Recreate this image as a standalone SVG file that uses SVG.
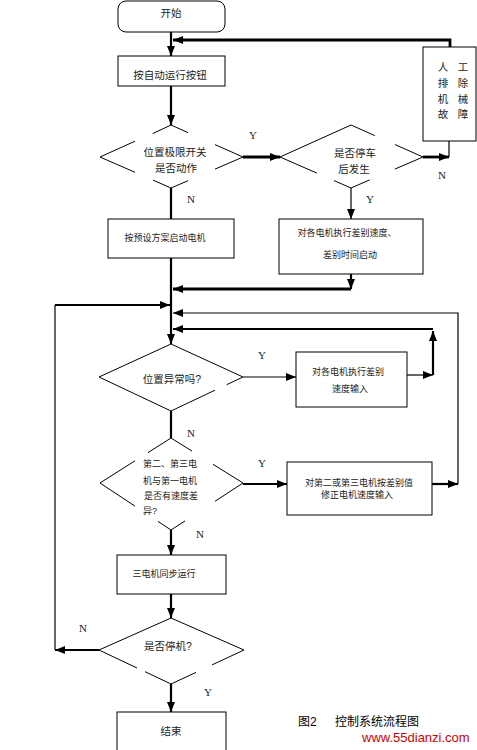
<svg xmlns="http://www.w3.org/2000/svg" width="477" height="750" viewBox="0 0 477 750">
<defs>
<marker id="ah" markerUnits="userSpaceOnUse" markerWidth="10" markerHeight="9" viewBox="0 0 10 9" refX="10" refY="4.5" orient="auto">
<path d="M0,0.5 L10,4.5 L0,8.5 z" fill="#000"/>
</marker>
<style>
.box{fill:#fff;stroke:#000;stroke-width:1}
.dia{fill:none;stroke:#000;stroke-width:1}
.c1{fill:none;stroke:#000;stroke-width:1.2}
.c2{fill:none;stroke:#000;stroke-width:2.2}
.c3{fill:none;stroke:#000;stroke-width:2.8}
.a{marker-end:url(#ah)}
.t{font-family:"Liberation Sans","Noto Sans CJK SC",sans-serif;fill:#222;text-anchor:middle}
.s{font-size:9px}
.m{font-size:10.5px}
.yn{font-family:"Liberation Serif",serif;font-size:11px;fill:#222;text-anchor:middle}
</style>
</defs>
<rect x="0" y="0" width="477" height="750" fill="#fff"/>

<g id="connectors">
<path class="c2 a" d="M171,32 L171,56"/>
<path class="c3 a" d="M450,47 L450,40 L173,40"/>
<path class="c2 a" d="M171,86 L171,125"/>
<path class="c3 a" d="M243,157 L280,157"/>
<path class="c3 a" d="M423,157 L449,157"/>
<path class="c1" d="M449,157 L449,141"/>
<path class="c2" d="M171,188 L171,219"/>
<path class="c1 a" d="M351,188 L351,219"/>
<path class="c2 a" d="M351,274 L351,289"/>
<path class="c3 a" d="M351,289 L173,289"/>
<path class="c2 a" d="M171,258 L171,344"/>
<path class="c1" d="M55,650 L55,305"/>
<path class="c2 a" d="M55,305 L170,305"/>
<path class="c1 a" d="M458,484 L458,313 L173,313"/>
<path class="c2 a" d="M433,375 L433,331"/>
<path class="c2 a" d="M433,329 L173,329"/>
<path class="c1 a" d="M407,375 L433,375"/>
<path class="c1 a" d="M243,377 L296,377"/>
<path class="c2" d="M171,411 L171,438"/>
<path class="c2 a" d="M243,484 L287,484"/>
<path class="c2 a" d="M432,484 L458,484"/>
<path class="c2 a" d="M171,530 L171,555"/>
<path class="c2 a" d="M171,594 L171,618"/>
<path class="c2 a" d="M99,650 L55,650"/>
<path class="c2 a" d="M171,684 L171,712"/>
</g>

<g id="start">
<rect x="118" y="1" width="107" height="31" rx="8" ry="8" class="box"/>
<text class="t m" x="171" y="17">开始</text>
</g>

<g id="autorun">
<rect x="118" y="56" width="107" height="30" class="box"/>
<text class="t m" x="170" y="79">按自动运行按钮</text>
</g>

<g id="limit-switch">
<path class="dia" d="M100,157 L135,141.2 M152.7,133.6 L171,125 L188,132.6 M215,144.6 L243,157 L215,169.1 M188,180.7 L171,188 L153,180.1 M135,172.3 L100,157"/>
<text class="t m" x="175" y="156">位置极限开关</text>
<text class="t m" x="176" y="172">是否动作</text>
</g>

<g id="after-stop">
<path class="dia" d="M280,157 L351,125 L374.8,135.6 M394.9,144.5 L423,157 L394.9,169.1 M369.7,179.9 L351,188 L334,180.6 M316.9,173.1 L280,157"/>
<text class="t m" x="355" y="157">是否停车</text>
<text class="t m" x="354" y="173">后发生</text>
</g>

<g id="manual">
<rect x="423" y="47" width="53" height="94" class="box"/>
<text class="t m" x="443" y="71">人</text>
<text class="t m" x="463" y="71">工</text>
<text class="t m" x="443" y="87">排</text>
<text class="t m" x="463" y="87">除</text>
<text class="t m" x="443" y="103">机</text>
<text class="t m" x="463" y="103">械</text>
<text class="t m" x="443" y="118">故</text>
<text class="t m" x="463" y="118">障</text>
</g>

<g id="preset-start">
<rect x="108" y="219" width="126" height="39" class="box"/>
<text class="t s" x="165" y="241">按预设方案启动电机</text>
</g>

<g id="diff-start">
<rect x="279" y="219" width="144" height="55" class="box"/>
<text class="t s" x="347" y="236">对各电机执行差别速度、</text>
<text class="t s" x="350" y="258">差别时间启动</text>
</g>

<g id="pos-abnormal">
<path class="dia" d="M99,377 L171,344 L243,377 L226.7,384.7 M215,390.2 L171,411 L99,377"/>
<text class="t m" x="172" y="383">位置异常吗?</text>
</g>

<g id="diff-speed">
<rect x="296" y="352" width="111" height="55" class="box"/>
<text class="t s" x="348" y="375">对各电机执行差别</text>
<text class="t s" x="350" y="392">速度输入</text>
</g>

<g id="speed-diff">
<path class="dia" d="M100,483 L135,460.8 M148,452.6 L171,438 L192,451.1 M213,464.3 L243,483 L215,501.3 M185,520.9 L171,530 L158,521.4 M135,506.2 L100,483"/>
<text class="t s" x="170" y="467">第二、第三电</text>
<text class="t s" x="170" y="484">机与第一电机</text>
<text class="t s" x="171" y="499">是否有速度差</text>
<text class="t s" x="143" y="514" text-anchor="start" style="text-anchor:start">异?</text>
</g>

<g id="correct">
<rect x="287" y="462" width="145" height="53" class="box"/>
<text class="t s" x="359" y="486">对第二或第三电机按差别值</text>
<text class="t s" x="357" y="498">修正电机速度输入</text>
</g>

<g id="sync">
<rect x="117" y="555" width="109" height="39" class="box"/>
<text class="t s" x="164" y="577">三电机同步运行</text>
</g>

<g id="stop-q">
<path class="dia" d="M99,650 L171,618 L244,650 L212,664.9 M196,672.4 L171,684 L145,671.7 M137,668 L99,650"/>
<text class="t m" x="168" y="650">是否停机?</text>
</g>

<g id="end">
<rect x="117" y="712" width="109" height="50" class="box"/>
<text class="t m" x="171" y="735">结束</text>
</g>

<g id="labels">
<text class="yn" x="253" y="139">Y</text>
<text class="yn" x="191" y="203">N</text>
<text class="yn" x="370" y="203">Y</text>
<text class="yn" x="442" y="179">N</text>
<text class="yn" x="262" y="359">Y</text>
<text class="yn" x="191" y="437">N</text>
<text class="yn" x="262" y="467">Y</text>
<text class="yn" x="200" y="538">N</text>
<text class="yn" x="83" y="632">N</text>
<text class="yn" x="208" y="696">Y</text>
</g>

<g id="caption">
<text x="298" y="726" style="font-family:'Liberation Sans','Noto Sans CJK SC',sans-serif;font-size:12px;fill:#000">图2</text>
<text x="335" y="726" style="font-family:'Liberation Sans','Noto Sans CJK SC',sans-serif;font-size:12px;fill:#000">控制系统流程图</text>
<text x="362" y="742" style="font-family:'Liberation Sans',sans-serif;font-size:13px;fill:#d00000">www.55dianzi.com</text>
</g>
</svg>
